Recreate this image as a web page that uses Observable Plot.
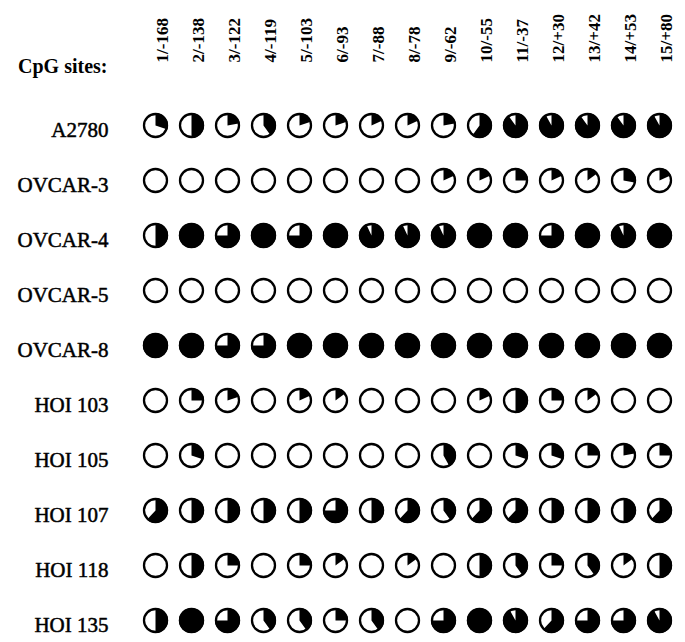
<!DOCTYPE html>
<html>
<head>
<meta charset="utf-8">
<script src="https://cdn.jsdelivr.net/npm/d3@7"></script>
<script src="https://cdn.jsdelivr.net/npm/@observablehq/plot@0.6"></script>
<style>
  html, body { margin: 0; padding: 0; background: #fff; }
  #chart svg { display: block; }
</style>
</head>
<body>
<div id="chart"></div>
<script>
const sites = ["1/-168","2/-138","3/-122","4/-119","5/-103","6/-93","7/-88","8/-78","9/-62","10/-55","11/-37","12/+30","13/+42","14/+53","15/+80"];
const cellLines = ["A2780","OVCAR-3","OVCAR-4","OVCAR-5","OVCAR-8","HOI 103","HOI 105","HOI 107","HOI 118","HOI 135"];

// fraction methylated per CpG site (filled wedge, clockwise from 12 o'clock)
const a2780  = [0.3,0.5,0.22,0.4,0.2,0.2,0.18,0.18,0.22,0.6,0.9,0.92,0.9,0.9,0.92];
const ovcar3 = [0,0,0,0,0,0,0,0,0.18,0.18,0.25,0.18,0.15,0.28,0.18];
const ovcar4 = [0.5,1,0.75,1,0.75,1,0.93,0.93,0.93,1,1,0.75,1,0.93,1];
const ovcar5 = [0,0,0,0,0,0,0,0,0,0,0,0,0,0,0];
const ovcar8 = [1,1,0.75,0.75,1,1,1,1,1,1,1,1,1,1,1];
const hoi103 = [0,0.25,0.2,0,0.18,0.15,0,0,0,0.18,0.5,0.25,0.15,0,0];
const hoi105 = [0,0.3,0,0,0,0,0,0,0.42,0,0.3,0.3,0.25,0.22,0.25];
const hoi107 = [0.62,0.5,0.5,0.5,0.5,0.75,0.5,0.62,0.4,0.62,0.62,0.5,0.5,0.5,0.62];
const hoi118 = [0,0.5,0.25,0,0.25,0.15,0,0.15,0,0.5,0.4,0.25,0.4,0.15,0.5];
const hoi135 = [0.5,1,0.75,0.4,0.4,0.25,0.4,0,0.75,1,0.92,0.62,0.75,0.75,0.92];

const series = [a2780, ovcar3, ovcar4, ovcar5, ovcar8, hoi103, hoi105, hoi107, hoi118, hoi135];

const cells = [];
series.forEach((vals, i) => vals.forEach((f, j) => cells.push({line: cellLines[i], site: sites[j], f})));

function wedge(f) {
  return {
    draw(ctx, size) {
      const r = Math.sqrt(size / Math.PI);
      if (f >= 0.999) { ctx.moveTo(r, 0); ctx.arc(0, 0, r, 0, 2 * Math.PI); ctx.closePath(); return; }
      ctx.moveTo(0, 0);
      ctx.lineTo(0, -r);
      ctx.arc(0, 0, r, -Math.PI / 2, -Math.PI / 2 + 2 * Math.PI * f);
      ctx.closePath();
    }
  };
}

const wedgeMarks = d3.groups(cells.filter(d => d.f > 0), d => d.f).map(([f, ds]) =>
  Plot.dot(ds, {x: "site", y: "line", r: 12.6, symbol: wedge(f), fill: "black", stroke: "none"})
);

const serif = "'Liberation Serif', 'DejaVu Serif', serif";

const chart = Plot.plot({
  width: 685,
  height: 642,
  marginLeft: 153,
  marginRight: 25,
  marginTop: 121,
  marginBottom: 19,
  style: {background: "white", fontFamily: serif, color: "black"},
  x: {type: "point", domain: sites, padding: 0, axis: null},
  y: {type: "point", domain: cellLines, padding: 0, axis: null},
  marks: [
    Plot.dot(cells, {x: "site", y: "line", r: 11.5, fill: "white", stroke: "black", strokeWidth: 2.3}),
    ...wedgeMarks,
    Plot.text(sites, {x: d => d, frameAnchor: "top", dy: -59, rotate: -90, textAnchor: "start",
      fontSize: 17, fontWeight: "bold", fontFamily: serif, fill: "black"}),
    Plot.text(cellLines, {y: d => d, frameAnchor: "left", dx: -45, dy: 5, textAnchor: "end",
      fontSize: 21, fontFamily: serif, fill: "black", stroke: "black", strokeWidth: 0.5}),
    Plot.text(["CpG sites:"], {frameAnchor: "top-left", dx: -46, dy: -63, textAnchor: "end",
      fontSize: 20, fontWeight: "bold", fontFamily: serif, fill: "black"})
  ]
});

document.getElementById("chart").appendChild(chart);
</script>
</body>
</html>
